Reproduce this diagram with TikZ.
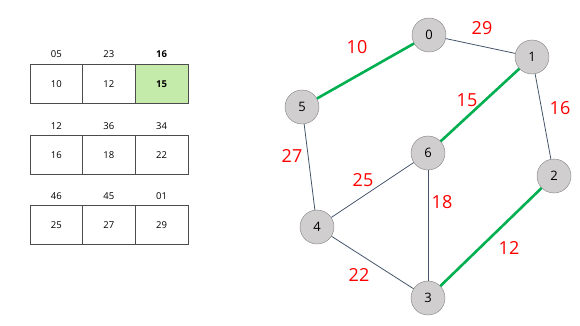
\documentclass[tikz,border=0pt]{standalone}
\usepackage{fontspec}
\setmainfont{Open Sans}
\usepackage{xcolor}
\definecolor{edge-dark}{HTML}{44546A}
\definecolor{edge-green}{HTML}{00B050}
\definecolor{cell-green}{HTML}{C5EBAA}
\definecolor{vertex-fill}{HTML}{D0CECE}
\definecolor{vertex-line}{HTML}{7F7F7F}

\begin{document}
\begin{tikzpicture}[x=1pt, y=-1pt,
    every node/.style={font=\fontsize{9.5}{11}\selectfont},
    cell/.style={draw=black!70, minimum width=52.6pt, minimum height=39pt,
      inner sep=0pt},
    vertex/.style={draw=vertex-line, circle, fill=vertex-fill,
      minimum size=34pt, inner sep=0pt, font=\fontsize{13}{15}\selectfont},
    weight/.style={text=red, font=\fontsize{18}{20}\selectfont},
    edge/.style={draw=edge-dark, line width=0.8pt},
    tree/.style={draw=edge-green, line width=2.6pt}]
  \useasboundingbox (0,0) rectangle (580,326);
    % arrays
    \node[cell] (a0) at (56.3,84) {10};
    \node[cell] (a1) at (108.9,84) {12};
    \node[cell, fill=cell-green] (a2) at (161.5,84) {\bfseries 15};
    \node (h0) at (56.3,54) {05};
    \node (h1) at (108.9,54) {23};
    \node (h2) at (161.5,54) {\bfseries 16};
    \node[cell] (b0) at (56.3,155) {16};
    \node[cell] (b1) at (108.9,155) {18};
    \node[cell] (b2) at (161.5,155) {22};
    \node (i0) at (56.3,126) {12};
    \node (i1) at (108.9,126) {36};
    \node (i2) at (161.5,126) {34};
    \node[cell] (c0) at (56.3,225) {25};
    \node[cell] (c1) at (108.9,225) {27};
    \node[cell] (c2) at (161.5,225) {29};
    \node (j0) at (56.3,196) {46};
    \node (j1) at (108.9,196) {45};
    \node (j2) at (161.5,196) {01};
    % graph
    \node[vertex] (v0) at (429,35) {0};
    \node[vertex] (v1) at (532,57) {1};
    \node[vertex] (v2) at (554,176) {2};
    \node[vertex] (v3) at (428,298) {3};
    \node[vertex] (v4) at (317,227) {4};
    \node[vertex] (v5) at (302,107) {5};
    \node[vertex] (v6) at (428,153) {6};
    \path[tree] (v5) -- (v0);
    \path[edge] (v0) -- (v1);
    \path[tree] (v1) -- (v6);
    \path[edge] (v1) -- (v2);
    \path[tree] (v2) -- (v3);
    \path[edge] (v5) -- (v4);
    \path[edge] (v4) -- (v6);
    \path[edge] (v6) -- (v3);
    \path[edge] (v4) -- (v3);
    \node[weight] (w10) at (357,47) {10};
    \node[weight] (w29) at (482,28) {29};
    \node[weight] (w16) at (560,108) {16};
    \node[weight] (w15) at (467,100) {15};
    \node[weight] (w27) at (292,156) {27};
    \node[weight] (w25) at (363,180) {25};
    \node[weight] (w18) at (442,202) {18};
    \node[weight] (w12) at (509,248) {12};
    \node[weight] (w22) at (359,275) {22};
\end{tikzpicture}
\end{document}
